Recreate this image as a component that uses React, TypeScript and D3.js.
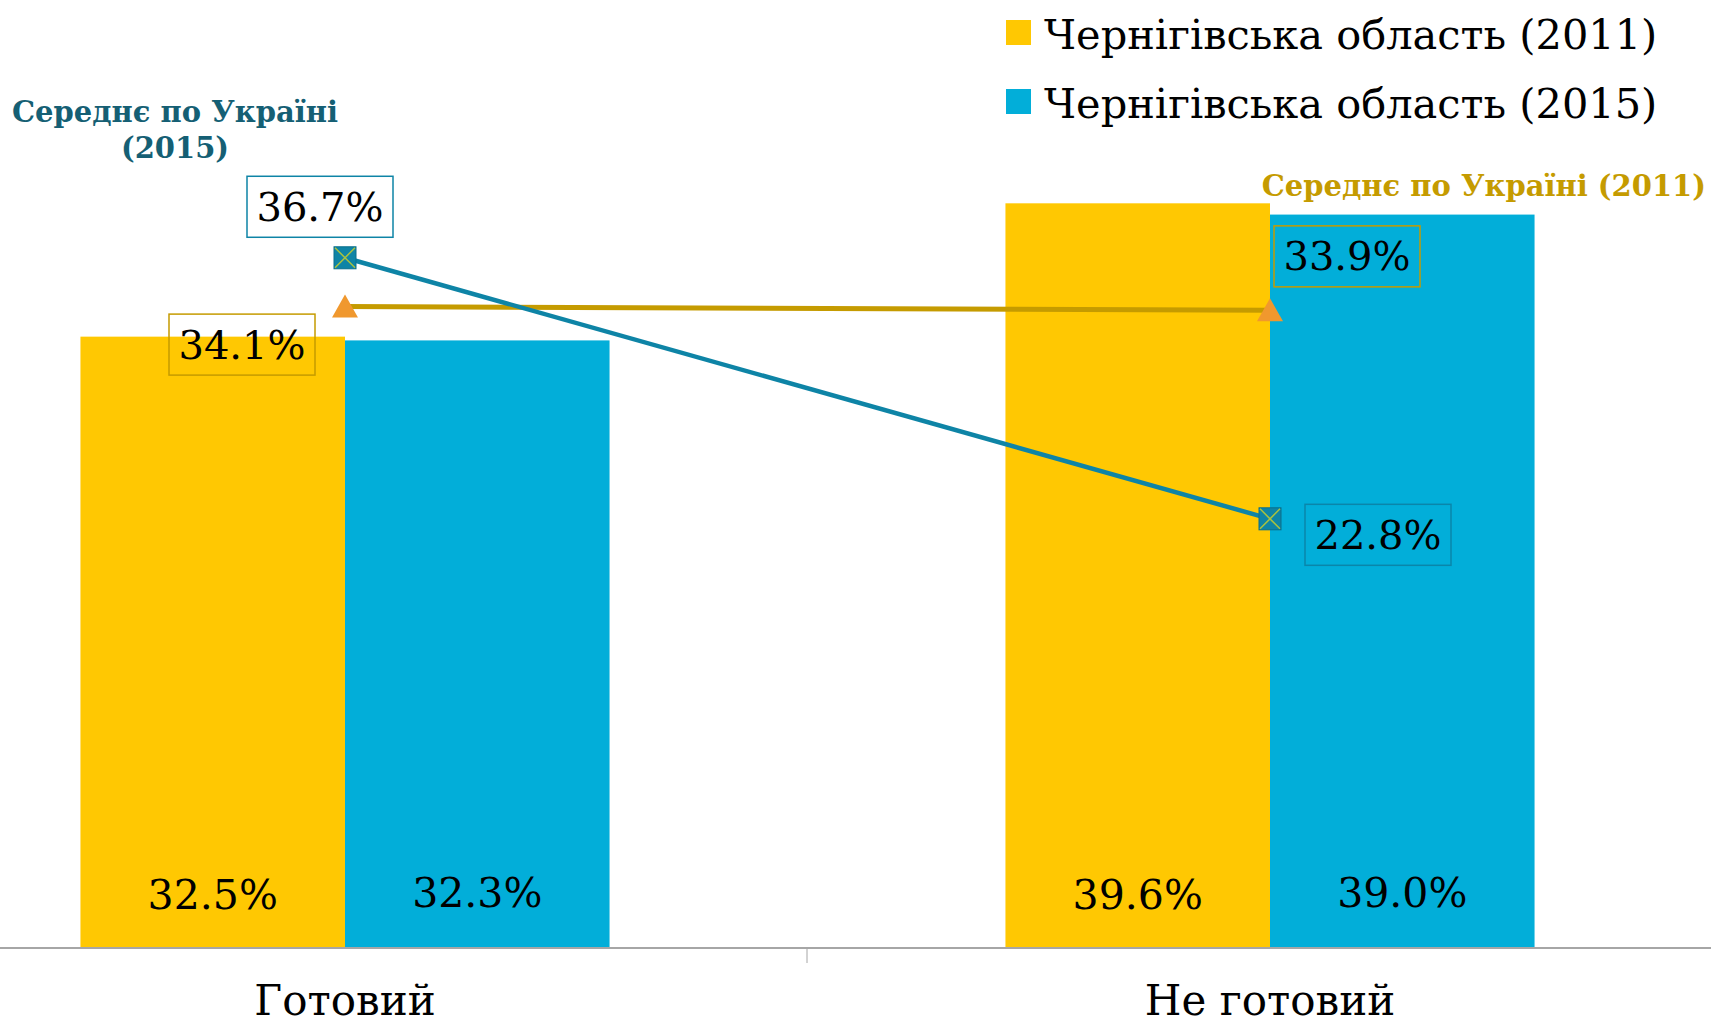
import * as d3 from 'd3';

const categories = ['Готовий', 'Не готовий'];
const seriesNames = ['Чернігівська область (2011)', 'Чернігівська область (2015)'];
const region2011 = [32.5, 39.6];
const region2015 = [32.3, 39.0];
const ukraine2011 = [34.1, 33.9];
const ukraine2015 = [36.7, 22.8];
const ukraineLabels = ['Середнє по Україні (2011)', 'Середнє по Україні', '(2015)'];

const W = 1711;
const H = 1026;
const FONT = '"DejaVu Serif", Georgia, serif';
const YELLOW = '#FFC802';
const BLUE = '#02AED9';
const TEAL = '#0E84A6';
const GOLD = '#C59B00';
const ORANGE = '#F0982E';

const fmt = (v: number) => `${v.toFixed(1)}%`;

export default function App() {
  const x = d3.scaleBand().domain(categories).range([-117.5, 1732.5]).paddingInner(0.428).paddingOuter(0.214);
  const xs = d3.scaleBand().domain(['a', 'b']).range([0, x.bandwidth()]);
  const y = d3.scaleLinear().domain([0, 50]).range([947, 8]);
  const cx = (c: string) => (x(c) ?? 0) + x.bandwidth() / 2;

  const line = d3
    .line<number>()
    .x((_, i) => cx(categories[i]))
    .y((v) => y(v));

  // offsets of the boxed labels from their markers
  const box15 = [
    { dx: -25, dy: -51 },
    { dx: 108, dy: 16 },
  ];
  const box11 = [
    { dx: -103, dy: 38 },
    { dx: 77, dy: -54 },
  ];

  const boxW = 146;
  const boxH = 61;

  return (
    <svg width={W} height={H} style={{ position: 'absolute', left: 0, top: 0 }} fontFamily={FONT}>
      <rect width={W} height={H} fill="#fff" />
      {categories.map((c, i) => (
        <g key={c} transform={`translate(${x(c)},0)`}>
          <rect x={xs('a')} y={y(region2011[i])} width={xs.bandwidth()} height={y(0) - y(region2011[i])} fill={YELLOW} />
          <rect x={xs('b')} y={y(region2015[i])} width={xs.bandwidth()} height={y(0) - y(region2015[i])} fill={BLUE} />
          <text x={(xs('a') ?? 0) + xs.bandwidth() / 2} y={909} textAnchor="middle" fontSize={41} fill="#000">
            {fmt(region2011[i])}
          </text>
          <text x={(xs('b') ?? 0) + xs.bandwidth() / 2} y={907} textAnchor="middle" fontSize={41} fill="#000">
            {fmt(region2015[i])}
          </text>
          <text x={x.bandwidth() / 2} y={1015} textAnchor="middle" fontSize={42} fill="#000">
            {c}
          </text>
        </g>
      ))}
      <line x1={0} x2={W} y1={y(0) + 1} y2={y(0) + 1} stroke="#a6a6a6" strokeWidth={2} />
      <line x1={807} x2={807} y1={y(0) + 1} y2={963} stroke="#a6a6a6" strokeWidth={1} />

      <path d={line(ukraine2011) ?? ''} fill="none" stroke={GOLD} strokeWidth={5} />
      <path d={line(ukraine2015) ?? ''} fill="none" stroke={TEAL} strokeWidth={4.5} />

      {ukraine2011.map((v, i) => {
        const px = cx(categories[i]);
        const py = y(v);
        return (
          <path
            key={`t${i}`}
            d={`M${px},${py - 12} L${px + 13},${py + 11} L${px - 13},${py + 11} Z`}
            fill={ORANGE}
          />
        );
      })}
      {ukraine2015.map((v, i) => {
        const px = cx(categories[i]);
        const py = y(v);
        return (
          <g key={`s${i}`}>
            <rect x={px - 11} y={py - 11} width={22} height={22} fill={TEAL} stroke="#0a6f8c" strokeWidth={1} />
            <path d={`M${px - 10},${py - 10} L${px + 10},${py + 10} M${px + 10},${py - 10} L${px - 10},${py + 10}`} stroke="#A9C23F" strokeWidth={1.5} />
          </g>
        );
      })}

      {ukraine2015.map((v, i) => {
        const bx = cx(categories[i]) + box15[i].dx;
        const by = y(v) + box15[i].dy;
        return (
          <g key={`b15${i}`}>
            <rect x={bx - boxW / 2} y={by - boxH / 2} width={boxW} height={boxH} fill={i === 0 ? '#fff' : 'none'} stroke={i === 0 ? TEAL : '#0a86aa'} strokeWidth={1.5} />
            <text x={bx} y={by + 14} textAnchor="middle" fontSize={40} fill="#000">
              {fmt(v)}
            </text>
          </g>
        );
      })}
      {ukraine2011.map((v, i) => {
        const bx = cx(categories[i]) + box11[i].dx;
        const by = y(v) + box11[i].dy;
        return (
          <g key={`b11${i}`}>
            <rect x={bx - boxW / 2} y={by - boxH / 2} width={boxW} height={boxH} fill="none" stroke={GOLD} strokeWidth={1.5} />
            <text x={bx} y={by + 14} textAnchor="middle" fontSize={40} fill="#000">
              {fmt(v)}
            </text>
          </g>
        );
      })}

      <text x={175} y={122} textAnchor="middle" fontSize={29} fontWeight="bold" fill="#155F74">
        {ukraineLabels[1]}
      </text>
      <text x={175} y={158} textAnchor="middle" fontSize={29} fontWeight="bold" fill="#155F74">
        {ukraineLabels[2]}
      </text>
      <text x={1706} y={196} textAnchor="end" fontSize={29} fontWeight="bold" fill={GOLD}>
        {ukraineLabels[0]}
      </text>

      {seriesNames.map((s, i) => (
        <g key={s} transform={`translate(1006,${20 + i * 69})`}>
          <rect width={25} height={25} fill={i === 0 ? YELLOW : BLUE} />
          <text x={38} y={29} fontSize={41.5} fill="#000">
            {s}
          </text>
        </g>
      ))}
    </svg>
  );
}
